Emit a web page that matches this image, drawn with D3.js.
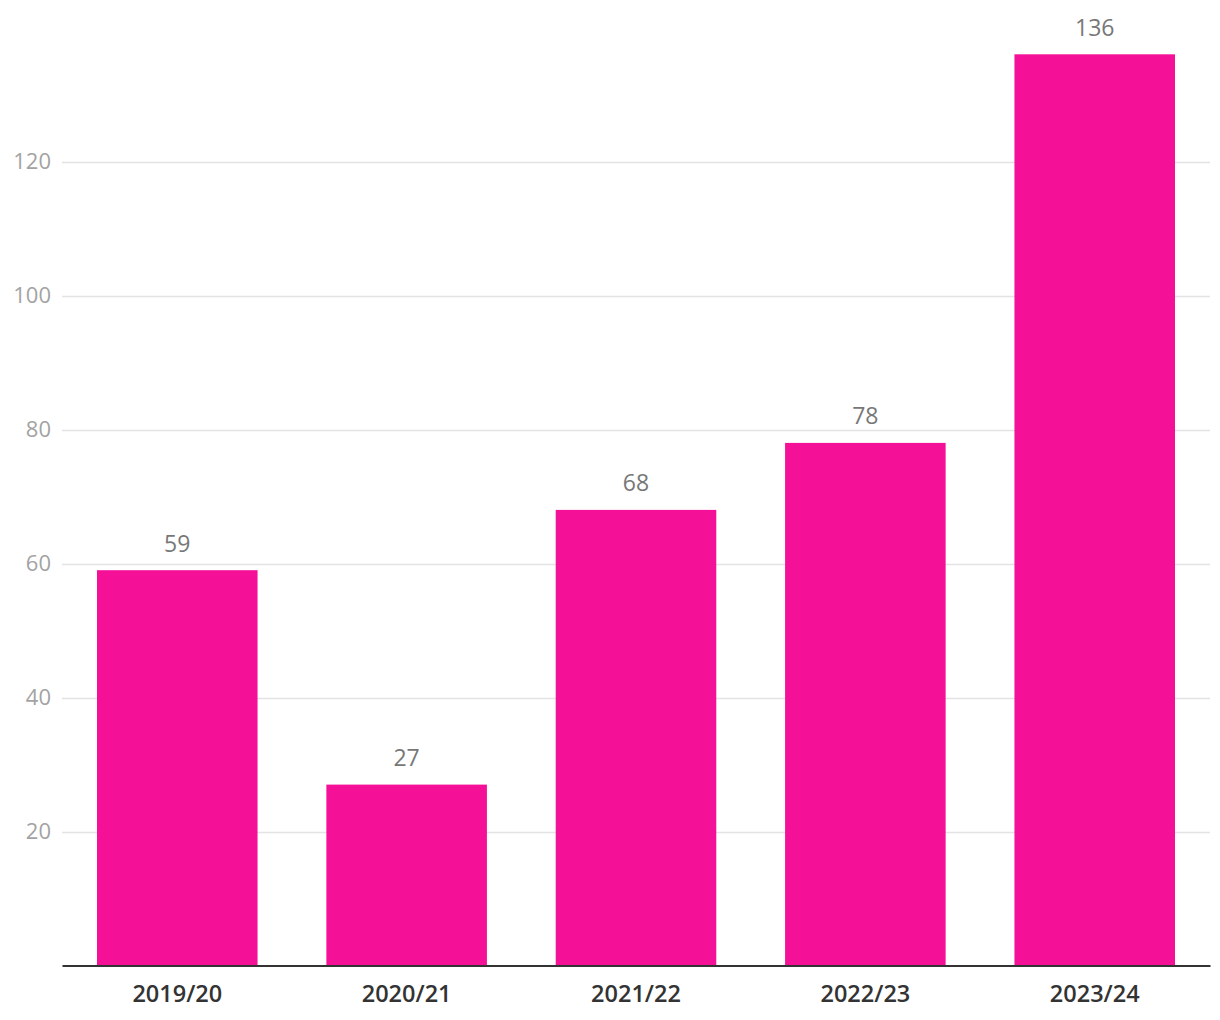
<!DOCTYPE html>
<html>
<head>
<meta charset="utf-8">
<script src="https://cdn.jsdelivr.net/npm/d3@7"></script>
<style>
  html, body { margin: 0; padding: 0; background: #fff; }
  svg { display: block; font-family: "Open Sans", sans-serif; }
</style>
</head>
<body>
<svg id="chart" width="1220" height="1020"></svg>
<script>
const categories = ["2019/20", "2020/21", "2021/22", "2022/23", "2023/24"];
const values = [59, 27, 68, 78, 136];
const yTicks = [20, 40, 60, 80, 100, 120];

const svg = d3.select("#chart");
const left = 62, right = 1210, bottom = 965.5;
const pxPerUnit = 6.7;

const x = d3.scaleBand().domain(categories).range([left, right]).paddingInner(0.3).paddingOuter(0.1526);
const y = d3.scaleLinear().domain([0, 140]).range([bottom, bottom - 140 * pxPerUnit]);

// gridlines
svg.append("g").selectAll("line").data(yTicks).join("line")
  .attr("x1", left).attr("x2", right)
  .attr("y1", d => Math.round(y(d)) + 0.5).attr("y2", d => Math.round(y(d)) + 0.5)
  .attr("stroke", "#e3e3e3").attr("stroke-width", 1.5);

// y tick labels
svg.append("g").selectAll("text").data(yTicks).join("text")
  .attr("x", 51).attr("y", d => y(d))
  .attr("dy", "0.35em")
  .attr("text-anchor", "end")
  .attr("font-size", 22)
  .attr("fill", "#a3a3a3")
  .text(d => d);

// bars
svg.append("g").selectAll("rect").data(values).join("rect")
  .attr("x", (d, i) => x(categories[i]))
  .attr("width", x.bandwidth())
  .attr("y", d => y(d))
  .attr("height", d => bottom - y(d))
  .attr("fill", "#f41198");

// value labels
svg.append("g").selectAll("text").data(values).join("text")
  .attr("x", (d, i) => x(categories[i]) + x.bandwidth() / 2)
  .attr("y", d => y(d) - 18.5)
  .attr("text-anchor", "middle")
  .attr("font-size", 23)
  .attr("font-weight", 500)
  .attr("fill", "#777")
  .text(d => d);

// x axis
const xAxis = svg.append("g").attr("transform", `translate(0,${bottom})`)
  .call(d3.axisBottom(x).tickSize(0).tickPadding(0));
xAxis.select(".domain").attr("stroke", "#333").attr("stroke-width", 2);
xAxis.selectAll("text")
  .attr("y", 36.5)
  .attr("dy", 0)
  .attr("font-family", "'Open Sans', sans-serif")
  .attr("font-size", 23.5)
  .attr("font-weight", 600)
  .attr("fill", "#333");
</script>
</body>
</html>
